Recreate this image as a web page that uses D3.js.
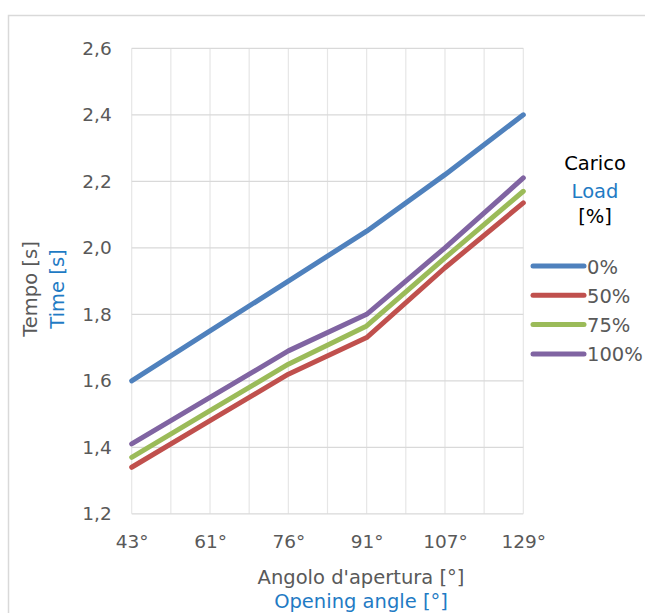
<!DOCTYPE html>
<html><head><meta charset="utf-8">
<script src="https://cdn.jsdelivr.net/npm/d3@7"></script>
<style>body{margin:0;background:#fff}svg{display:block;font-family:"DejaVu Sans",sans-serif}</style>
</head><body><svg id="c" width="645" height="613"></svg>
<script>
const categories = ["43°","61°","76°","91°","107°","129°"];
const yTicks = [1.2,1.4,1.6,1.8,2.0,2.2,2.4,2.6];
const seriesNames = ["0%","50%","75%","100%"];
const load0 = [1.60,1.75,1.90,2.05,2.22,2.40];
const load50 = [1.34,1.48,1.62,1.73,1.94,2.135];
const load75 = [1.37,1.51,1.65,1.765,1.97,2.17];
const load100 = [1.41,1.55,1.69,1.80,2.00,2.21];
const colors = ["#4f81bd","#c0504d","#9bbb59","#8064a2"];
const series = [load0,load50,load75,load100];

const FS = 18.5;
const svg = d3.select("#c");
const L=131.7,R=523.3,T=48.3,B=513.8;
const x = d3.scalePoint().domain(categories).range([L,R]);
const y = d3.scaleLinear().domain([1.2,2.6]).range([B,T]);

// frame
svg.append("path").attr("d","M8.5,613V15.5H645").attr("fill","none").attr("stroke","#d9d9d9").attr("stroke-width",1.5);

// vertical gridlines (at categories and midpoints)
const step = x.step();
const vgrid = d3.range(0,categories.length*2-1).map(i=>L+i*step/2);
svg.append("g").selectAll("line").data(vgrid).join("line")
  .attr("x1",d=>d).attr("x2",d=>d).attr("y1",T).attr("y2",B)
  .attr("stroke","#e6e6e6").attr("stroke-width",1.2);
svg.append("g").selectAll("line").data(yTicks).join("line")
  .attr("x1",L).attr("x2",R).attr("y1",d=>y(d)).attr("y2",d=>y(d))
  .attr("stroke","#d9d9d9").attr("stroke-width",1.3);

const fmt = d=>d3.format(".1f")(d).replace(".",",");
const yAxis = d3.axisLeft(y).tickValues(yTicks).tickFormat(fmt).tickSize(0).tickPadding(20);
const gy = svg.append("g").attr("transform",`translate(${L},0)`).call(yAxis);
gy.select(".domain").remove();
gy.selectAll("text").attr("font-size",FS).attr("fill","#595959").attr("font-family","DejaVu Sans");

const xAxis = d3.axisBottom(x).tickSize(0).tickPadding(21);
const gx = svg.append("g").attr("transform",`translate(0,${B})`).call(xAxis);
gx.select(".domain").remove();
gx.selectAll("text").attr("font-size",FS).attr("fill","#595959").attr("font-family","DejaVu Sans");

// lines
const line = d3.line().x((d,i)=>x(categories[i])).y(d=>y(d));
svg.append("g").selectAll("path").data(series).join("path")
  .attr("d",line).attr("fill","none").attr("stroke",(d,i)=>colors[i])
  .attr("stroke-width",5).attr("stroke-linecap","round").attr("stroke-linejoin","round");

// axis titles
const TS = 19.5;
svg.append("text").attr("x",361).attr("y",584).attr("text-anchor","middle").attr("font-size",TS).attr("fill","#595959").text("Angolo d'apertura [°]");
svg.append("text").attr("x",361).attr("y",607.5).attr("text-anchor","middle").attr("font-size",TS).attr("fill","#1f7bc4").text("Opening angle [°]");
svg.append("text").attr("transform","translate(37,289) rotate(-90)").attr("text-anchor","middle").attr("font-size",TS).attr("fill","#595959").text("Tempo [s]");
svg.append("text").attr("transform","translate(64,289) rotate(-90)").attr("text-anchor","middle").attr("font-size",TS).attr("fill","#1f7bc4").text("Time [s]");

// legend
svg.append("text").attr("x",595).attr("y",170).attr("text-anchor","middle").attr("font-size",TS).attr("fill","#000").text("Carico");
svg.append("text").attr("x",595).attr("y",198).attr("text-anchor","middle").attr("font-size",TS).attr("fill","#1f7bc4").text("Load");
svg.append("text").attr("x",595).attr("y",223).attr("text-anchor","middle").attr("font-size",TS).attr("fill","#000").text("[%]");
const lg = svg.append("g").selectAll("g").data(seriesNames).join("g")
  .attr("transform",(d,i)=>`translate(0,${266+i*29.3})`);
lg.append("line").attr("x1",533).attr("x2",584).attr("stroke",(d,i)=>colors[i]).attr("stroke-width",5).attr("stroke-linecap","round");
lg.append("text").attr("x",587).attr("y",7.5).attr("font-size",TS).attr("fill","#595959").text(d=>d);
</script></body></html>
